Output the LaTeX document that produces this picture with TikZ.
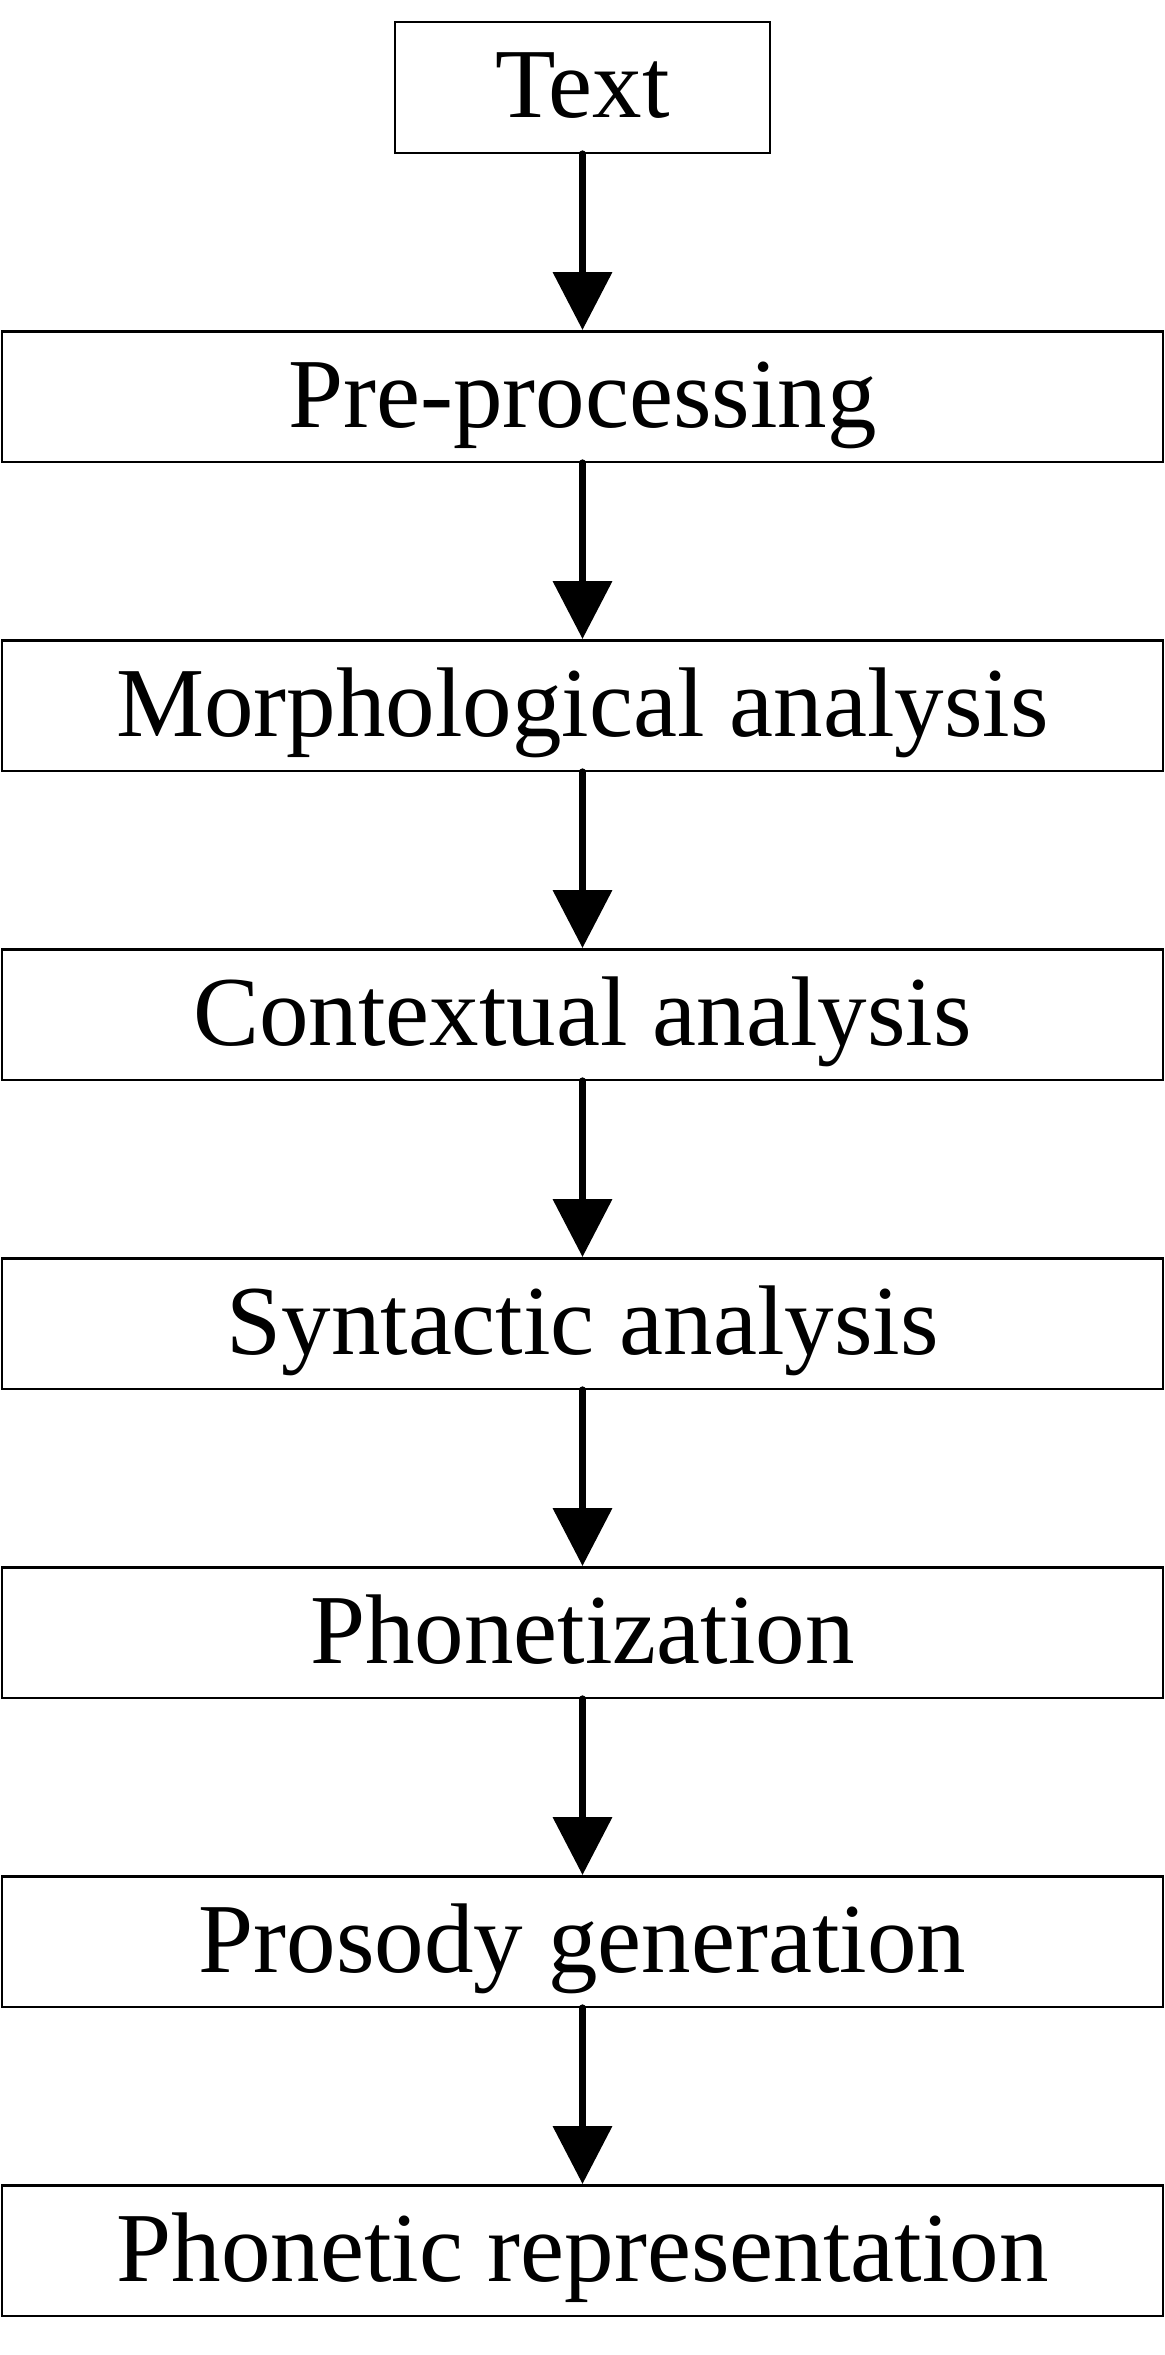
\documentclass[tikz,border=0pt]{standalone}
\usepackage{fontspec}
\setmainfont{Liberation Serif}
\usetikzlibrary{arrows.meta}

\begin{document}
\begin{tikzpicture}[x=0.5pt,y=-0.5pt,
    stage/.style={draw,line width=1.25pt,inner sep=0pt,minimum width=580.5pt,minimum height=65.25pt,
        text height=40.5pt,text depth=10pt,font=\fontsize{49.5}{58}\selectfont},
    flow/.style={line width=3.65pt,line cap=round,-{Triangle[width=29pt,length=29pt]}}]
            \useasboundingbox (0,0) rectangle (1165,2355);

            \node (txt) at (582.5,87.5) [stage,minimum width=187.5pt] {Text};
            \node (pre) at (582.5,396.5) [stage] {Pre-processing};
            \node (mor) at (582.5,705.5) [stage] {Morphological analysis};
            \node (con) at (582.5,1014.5) [stage] {Contextual analysis};
            \node (syn) at (582.5,1323.5) [stage] {Syntactic analysis};
            \node (pho) at (582.5,1632.5) [stage] {Phonetization};
            \node (pro) at (582.5,1941.5) [stage] {Prosody generation};
            \node (rep) at (582.5,2250.5) [stage] {Phonetic representation};

            \draw[flow] (txt) -- (pre);
            \draw[flow] (pre) -- (mor);
            \draw[flow] (mor) -- (con);
            \draw[flow] (con) -- (syn);
            \draw[flow] (syn) -- (pho);
            \draw[flow] (pho) -- (pro);
            \draw[flow] (pro) -- (rep);

        \end{tikzpicture}
\end{document}
